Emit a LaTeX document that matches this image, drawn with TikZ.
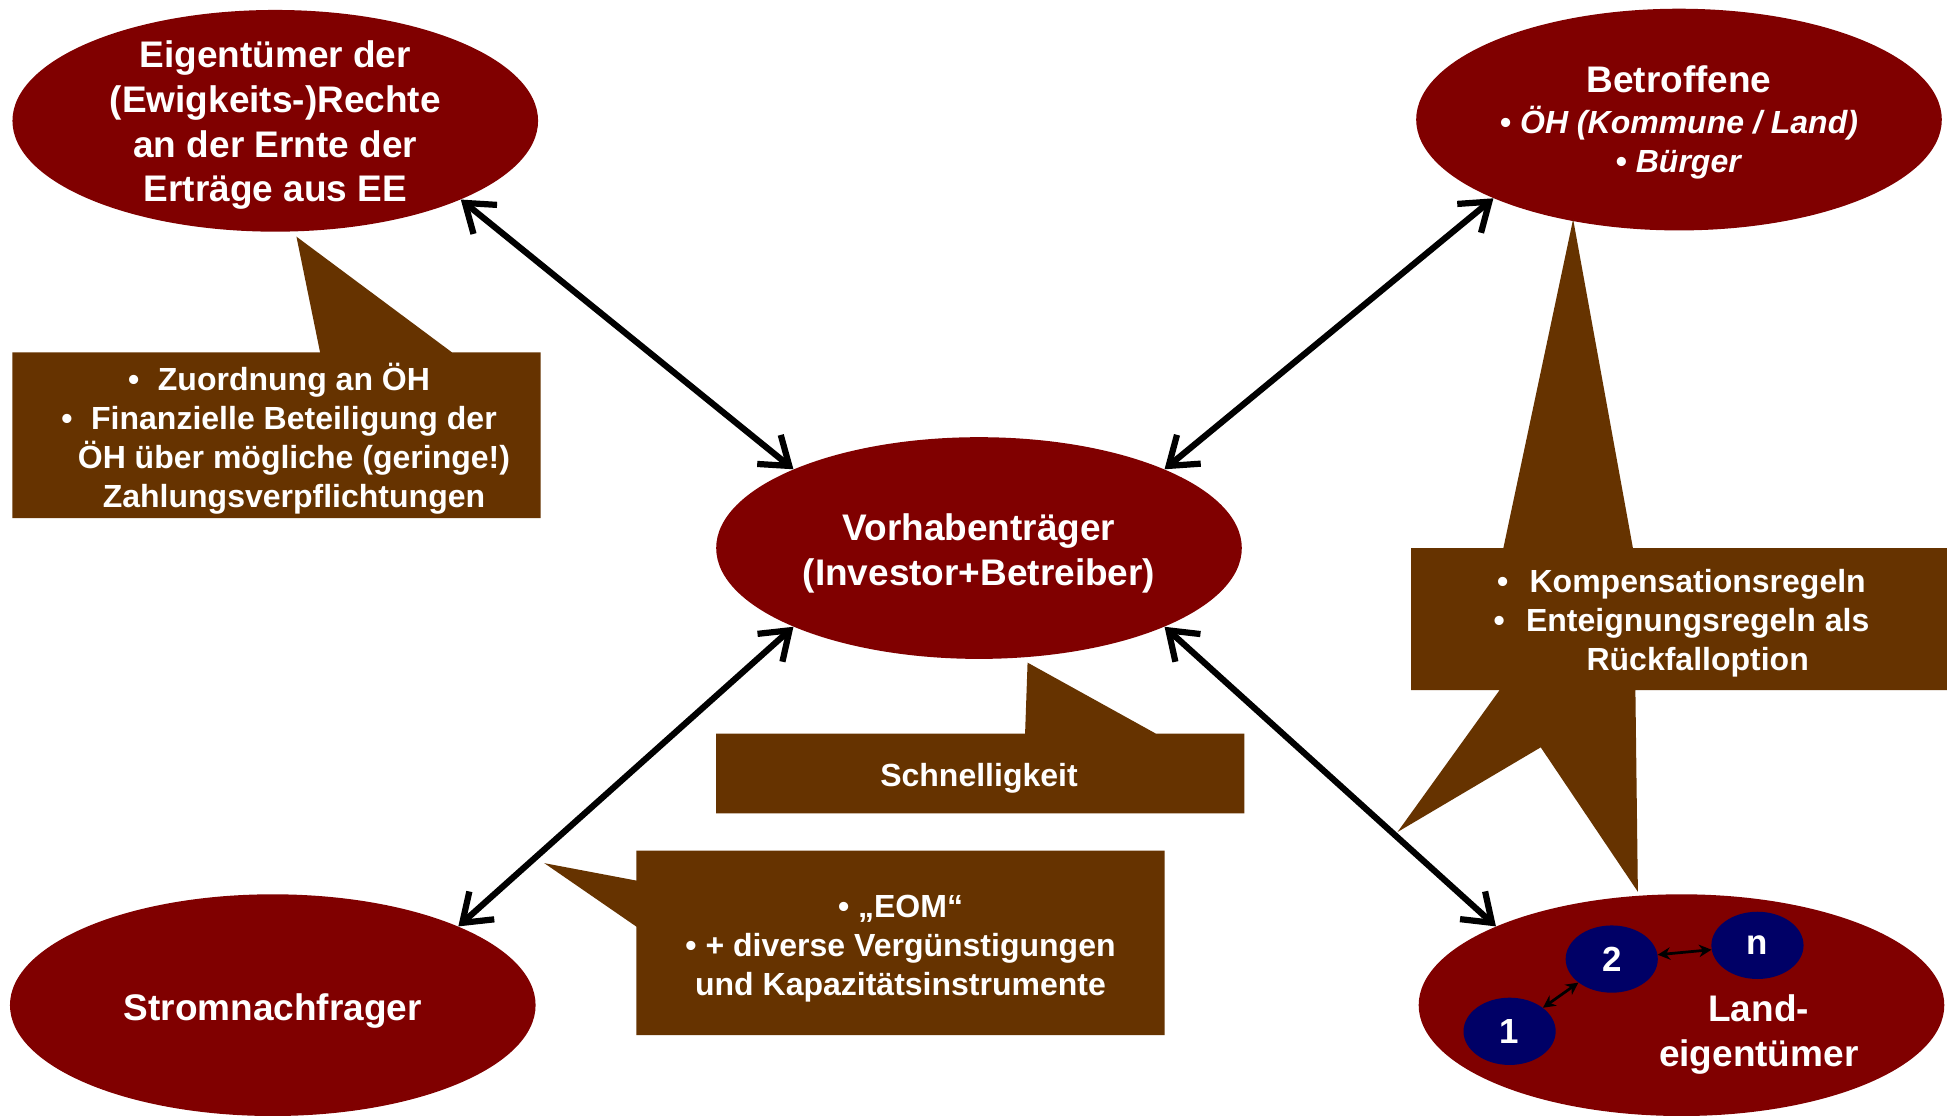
\documentclass[tikz,border=0pt]{standalone}
\usepackage{fontspec}
\setmainfont{Liberation Sans}
\usetikzlibrary{shapes.geometric,arrows.meta}
\definecolor{ered}{HTML}{800000}
\definecolor{cbrown}{HTML}{663300}
\definecolor{navyb}{HTML}{000066}
\begin{document}
\begin{tikzpicture}[x=1pt,y=-1pt,
 big/.style={ellipse,fill=ered,minimum width=422pt,minimum height=178pt,inner sep=0pt},
 small/.style={ellipse,fill=navyb,minimum width=74pt,minimum height=54pt,inner sep=0pt,text=white,font=\bfseries\fontsize{28}{30}\selectfont},
 ctext/.style={text=white,font=\bfseries\fontsize{25.7}{31.3}\selectfont,align=center},
 btext/.style={text=white,font=\bfseries\fontsize{29.7}{36}\selectfont,align=center},
 link/.style={line width=5pt,{Straight Barb[length=21pt,width=30pt]}-{Straight Barb[length=21pt,width=30pt]}},
 tiny/.style={line width=2.2pt,{Stealth[length=10pt,width=10pt]}-{Stealth[length=10pt,width=10pt]}}]
\useasboundingbox (0,0) rectangle (1568,896);
\fill[white] (0,0) rectangle (1568,896);

% main ellipses
\node[big] (eig) at (221,97) {};
\node[btext] (eigt) at (221,100.5) {Eigentümer der\\(Ewigkeits-)Rechte\\an der Ernte der\\Erträge aus EE};
\node[big] (bet) at (1348,96) {};
\node[ctext] (bett) at (1348,98.5) {\fontsize{29.7}{36}\selectfont Betroffene\\[1.5pt]\textbullet\ \textit{ÖH (Kommune / Land)}\\\textbullet\ \textit{Bürger}};
\node[big] (vor) at (786,440) {};
\node[btext] (vort) at (786,444) {Vorhabenträger\\(Investor+Betreiber)};
\node[big] (str) at (219,807) {};
\node[btext] (strt) at (219,812) {Stromnachfrager};
\node[big] (land) at (1350,807) {};
\node[btext] (landt) at (1412,830.5) {Land-\\eigentümer};

% small owner ellipses
\node[small] (n1) at (1212,828) {1};
\node[small] (n2) at (1294,770) {2};
\node[small] (nn) at (1411,759) {n};
\draw[tiny] (n1) -- (n2);
\draw[tiny] (n2) -- (nn);

% callouts
\fill[cbrown] (10,283) -- (257,283) -- (238,190) -- (363,283) -- (434,283) -- (434,416) -- (10,416) -- cycle;
\node[ctext] (c1) at (236,352.5) {\llap{\textbullet\hspace{15pt}}Zuordnung an ÖH\\\llap{\textbullet\hspace{15pt}}Finanzielle Beteiligung der\\ÖH über mögliche (geringe!)\\Zahlungsverpflichtungen};

\fill[cbrown] (1133,440) -- (1207,440) -- (1263,176) -- (1311,440) -- (1563,440) -- (1563,554) -- (1313,554) -- (1315,716) -- (1237,600) -- (1122,668) -- (1204,554) -- (1133,554) -- cycle;
\node[ctext] (c2) at (1363,500.5) {\llap{\textbullet\hspace{17pt}}Kompensationsregeln\\\llap{\textbullet\hspace{17pt}}Enteignungsregeln als\\Rückfalloption};

\fill[cbrown] (575,589) -- (823,589) -- (825,532) -- (928,589) -- (999,589) -- (999,653) -- (575,653) -- cycle;
\node[ctext] (c3) at (786,625) {Schnelligkeit};

\fill[cbrown] (511,683) -- (935,683) -- (935,831) -- (511,831) -- (511,744) -- (437,693) -- (511,707) -- cycle;
\node[ctext] (c4) at (723,762) {\textbullet\ „EOM“\\\textbullet\ + diverse Vergünstigungen\\und Kapazitätsinstrumente};

% connectors
\draw[link] (eig.-23) -- (vor.157);
\draw[link] (bet.203) -- (vor.23);
\draw[link] (str.23) -- (vor.203);
\draw[link] (land.157) -- (vor.-23);
\end{tikzpicture}
\end{document}
